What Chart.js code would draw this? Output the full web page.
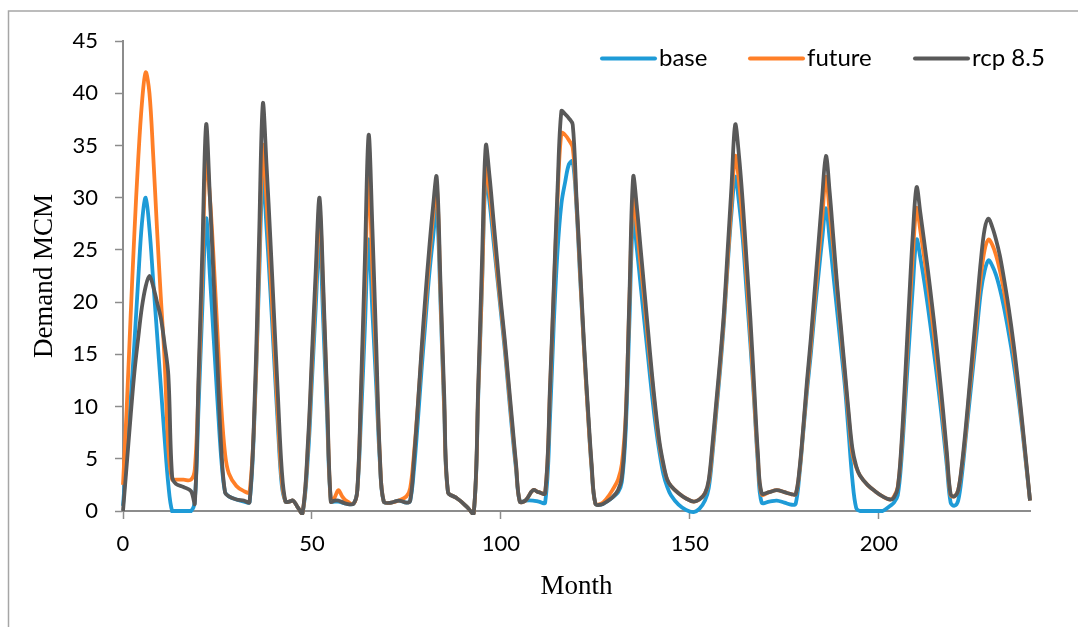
<!DOCTYPE html>
<html>
<head>
<meta charset="utf-8">
<script src="https://cdn.jsdelivr.net/npm/chart.js@4/dist/chart.umd.min.js"></script>
<style>
  html, body { margin: 0; padding: 0; background: #ffffff; }
  #wrap { position: relative; width: 1078px; height: 627px; }
  canvas { position: absolute; left: 0; top: 0; }
</style>
</head>
<body>
<div id="wrap"><canvas id="c" width="1078" height="627"></canvas></div>
<script>
// ---- data ----
const seriesNames = ["base", "future", "rcp 8.5"];
const months = [
  0,1,2,3,4,5,6,7,8,9,10,11,12,13,14,16,18,19,
  20,21,22,23,24,25,26,27,28,30,32,33.5,
  35,36,37,38,39,40,41,42,43,44,45,46,47.5,
  49,50,51,52,53,54,55,56,57,58,59,61,62,63,64,65,66,67,68,69,71,73,75,76,
  77,78,79,80,81,82,83,84,85,86,88,89.5,91,92.8,94,95,96,
  97,98,99,100,101,102,103,104,105,106.5,108.5,110,111.7,113,114,115,116,117,118,119,
  120,121,122,123,124,125,126.5,128,129.5,131,132,133,134,135,
  136,137,138,139,140,141,142,143,144,145,147,149,151,152.5,154,
  155,156,157,158,159,160,161,162,163,164,165,166,167,168,169,171,173,175,177,178,
  179,180,181,182,183,184,185,186,187,188,189,190,191,192,193,194,195,197,199,201,203,204,
  205,206,207,208,209,210,211,212,213,214,215,216,217,218,219,220,221,
  222,223,224,225,226,227,228,229,230,231,232,233,234,235,236,237,238,239,240
];
const base = [
  0.5,5.5,10.5,16,22,27.5,30,27,22,17,12,7,2.5,0,0,0,0,1.0,
  10,19.5,28,22.5,16.5,10.5,5,1.8,1.4,1.1,0.9,0.85,
  11,22,32,27,21,14.5,8,2.5,0.9,0.9,1.0,0.5,-0.2,
  5.5,12.5,19.5,26,18,9,0.9,0.9,0.9,0.8,0.7,0.7,2,9,17.5,26,19,12,4.5,0.9,0.8,1.0,0.8,1.0,
  4,8.5,13.5,18,22.5,26,29,20,9.5,1.8,1.3,0.9,0.4,-0.2,11,21.5,32,
  29.5,26,22.5,19,15.5,11.5,7.5,4,0.9,1.0,1.0,0.9,0.8,9,18,25,29.4,31.5,33.2,33.5,
  29,22,15.5,9.5,4,0.7,0.6,0.9,1.3,1.8,2.8,7.5,18,28,
  25,21.5,18,14.5,11,8,5.5,3.5,2.3,1.5,0.6,0.1,-0.1,0.2,1.0,
  2.2,5.5,9.5,13.5,18,23.5,28.5,32,29.5,26,21,16,10.5,4.5,0.8,0.9,1.0,0.8,0.6,0.7,
  3.5,7.5,11.5,15,19,22.5,26,29,26,22.5,19,15.5,12,7.5,3,0.3,0,0,0,0,0.5,0.8,
  1.5,5,10.5,16,21.5,26,24.2,22,19.5,16.8,14,11,7.8,4.3,0.8,0.5,1.0,
  3.5,7,10.5,14,17.5,21,23,24,23.5,22.6,21.3,19.7,17.8,15.7,13.3,10.6,7.6,4.3,1.0
];
const future = [
  2.5,10,18.5,26.5,33.5,39,42,40,34,27,20.5,14.5,6,3,3,3,3,4,
  12,23,34,30,24,17,10,5.5,3.6,2.4,1.9,1.8,
  11.5,23.5,35,29.5,23,16,9,3,0.9,0.9,1.0,0.5,-0.2,
  6.5,14,21.5,29,20.5,10.5,0.9,1.3,2.0,1.4,1.0,0.7,2,11,21.5,32,23,14,5,0.9,0.8,1.0,1.4,2.2,
  5.5,10,15,19.5,24,28,31.2,21,10,1.8,1.3,0.9,0.4,-0.2,11.5,22,33,
  30.5,27,23,19.5,16,12,8,4.3,0.9,1.0,2.0,1.8,1.7,11.5,21,30,36.2,36,35.5,34.8,
  29.5,22.5,15.5,9.5,4.2,0.7,0.7,1.2,2.0,3.0,4.5,9,20,30,
  27,23.5,20,16,12.5,9,6.2,4.3,3,2.4,1.7,1.2,0.9,1.1,1.7,
  2.8,6,10,14,18.5,24,29.5,34,31.5,27.5,22.5,17,11,5,1.6,1.8,2.0,1.8,1.6,1.6,
  3.8,7.8,12,15.8,20,24,28,32,28.5,25,21,17,13,9,5.5,4.2,3.4,2.5,1.9,1.4,1.1,1.4,
  2.3,6,12,18.5,24.5,29,26.8,24.3,21.6,18.7,15.6,12.3,8.8,5.1,1.5,1.4,2.0,
  4.3,7.5,11.5,15,19,22.5,25,26,25.5,24.5,23.1,21.3,19.2,16.9,14.3,11.3,8,4.5,1.0
];
const rcp85 = [
  0,4.5,9,13.2,16.5,19.5,21.5,22.5,21.5,20,18.5,16,13,3.3,2.6,2.3,1.9,0.7,
  13,25,37,30,22,14,6,1.8,1.4,1.1,1.0,0.85,
  12.5,26,39,33,26,18.5,11,4,0.9,0.9,1.0,0.5,-0.2,
  7,15,23,30,21.5,11,0.9,1.0,1.0,0.85,0.7,0.7,2,12,24,36,27,16,5,0.9,0.8,1.0,0.8,1.0,
  5,10,15.5,20.5,25,29,32,22,11,1.8,1.3,0.9,0.4,-0.2,12,24,35,
  32,28,24,20,16.5,12.5,8.5,4.5,0.9,1.0,2.0,1.8,1.7,12,21.5,31,38.3,38,37.6,37,
  30,23,16,10,4.5,0.7,0.6,0.9,1.3,2.0,3.2,8.5,20.5,32,
  29,25,21,17,13,9.5,6.5,4.5,3,2.4,1.7,1.2,0.9,1.1,1.7,
  3.0,6.5,10.5,14.5,19,25,31,37,34,29.5,24,18.5,12,5.5,1.7,1.8,2.0,1.8,1.6,1.6,
  4,8,12.5,16.5,21,25.5,30,34,30.5,26,21.5,17.5,13.5,9.5,6,4.3,3.4,2.5,1.9,1.4,1.1,1.3,
  2.2,6.5,13,20,26.5,31,28.5,25.8,23,20,16.8,13.3,9.6,5.6,1.6,1.4,2.0,
  4.5,8,12,16,20,24,27,28,27.2,26,24.5,22.5,20.3,17.8,15,11.8,8.3,4.7,1.0
];
const xTicks = [0, 50, 100, 150, 200];
const yTicks = [0, 5, 10, 15, 20, 25, 30, 35, 40, 45];
const colors = ["#1E9BD7", "#FF7F27", "#595959"];
// ----------------------------------------------

function pts(vals) { return months.map((m, i) => ({ x: m, y: vals[i] })); }
const seriesValues = [base, future, rcp85];

const TICK_FONT = { family: "Lato, 'Open Sans', sans-serif", size: 22 };
const TITLE_FONT = { family: "'Liberation Serif', 'DejaVu Serif', serif", size: 27 };
const AXIS_COLOR = "#8C8C8C";

const framePlugin = {
  id: "frame",
  beforeDraw(chart) {
    const ctx = chart.ctx;
    ctx.save();
    ctx.fillStyle = "#ffffff";
    ctx.fillRect(0, 0, chart.width, chart.height);
    ctx.strokeStyle = "#A6A6A6";
    ctx.lineWidth = 1.5;
    ctx.beginPath();
    ctx.moveTo(8.5, chart.height);
    ctx.lineTo(8.5, 11);
    ctx.lineTo(chart.width, 11);
    ctx.stroke();
    ctx.restore();
  }
};

const legendPlugin = {
  id: "insideLegend",
  afterDraw(chart) {
    const ctx = chart.ctx;
    const starts = [602, 750, 915];
    const y = 58.5;
    ctx.save();
    ctx.font = "24px Lato, 'Open Sans', sans-serif";
    ctx.textBaseline = "middle";
    ctx.textAlign = "left";
    chart.data.datasets.forEach((ds, i) => {
      const x0 = starts[i];
      ctx.strokeStyle = ds.borderColor;
      ctx.lineWidth = 4;
      ctx.lineCap = "round";
      ctx.beginPath();
      ctx.moveTo(x0, y);
      ctx.lineTo(x0 + 53, y);
      ctx.stroke();
      ctx.fillStyle = "#000000";
      ctx.fillText(ds.label, x0 + 57, y);
    });
    ctx.restore();
  }
};

new Chart(document.getElementById("c"), {
  type: "line",
  data: {
    datasets: seriesNames.map((name, i) => ({
      label: name,
      data: pts(seriesValues[i]),
      borderColor: colors[i],
      backgroundColor: colors[i],
      borderWidth: 3.8,
      pointRadius: 0,
      pointHoverRadius: 0,
      tension: 0.35,
      fill: false,
      clip: 4,
      order: seriesNames.length - i
    }))
  },
  options: {
    responsive: false,
    animation: false,
    devicePixelRatio: 1,
    layout: { padding: { left: 0, top: 41, right: 48, bottom: 0 } },
    plugins: {
      legend: { display: false },
      tooltip: { enabled: false }
    },
    scales: {
      x: {
        type: "linear",
        min: 0,
        max: 240,
        afterFit(scale) { scale.height = 116; },
        afterBuildTicks(scale) { scale.ticks = xTicks.map(v => ({ value: v })); },
        ticks: {
          font: TICK_FONT,
          color: "#000000",
          padding: 12,
          maxRotation: 0,
          includeBounds: false
        },
        grid: {
          display: true,
          drawOnChartArea: false,
          drawTicks: true,
          tickLength: 8,
          tickWidth: 1.5,
          tickColor: AXIS_COLOR,
          color: AXIS_COLOR
        },
        border: { display: true, color: AXIS_COLOR, width: 2 },
        title: {
          display: true,
          text: "Month",
          font: TITLE_FONT,
          color: "#000000",
          padding: { top: 0, bottom: 24 }
        }
      },
      y: {
        min: 0,
        max: 45,
        afterFit(scale) { scale.width = 123; },
        afterBuildTicks(scale) { scale.ticks = yTicks.map(v => ({ value: v })); },
        ticks: {
          font: TICK_FONT,
          color: "#000000",
          padding: 17
        },
        grid: {
          display: true,
          drawOnChartArea: false,
          drawTicks: true,
          tickLength: 8,
          tickWidth: 1.5,
          tickColor: AXIS_COLOR,
          color: AXIS_COLOR
        },
        border: { display: true, color: AXIS_COLOR, width: 2 },
        title: {
          display: true,
          text: "Demand MCM",
          font: TITLE_FONT,
          color: "#000000",
          padding: { top: 29, bottom: 0 }
        }
      }
    }
  },
  plugins: [framePlugin, legendPlugin]
});
</script>
</body>
</html>
